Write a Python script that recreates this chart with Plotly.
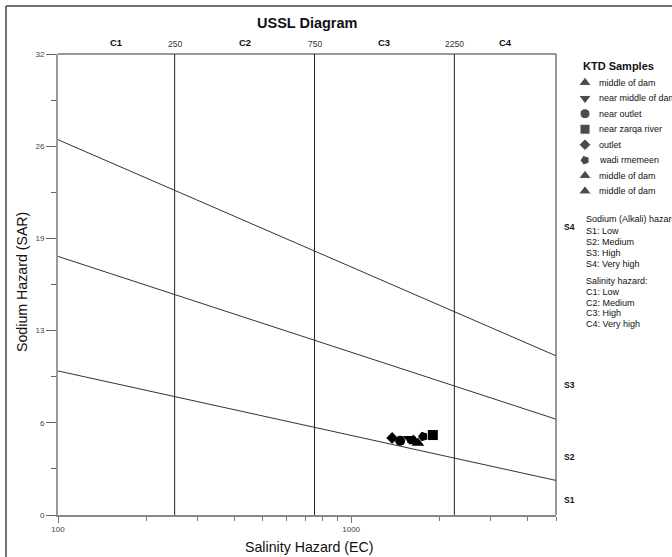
import numpy as np
import plotly.graph_objects as go

# ---------------- data ----------------
samples = ["middle of dam", "near middle of dam", "near outlet", "near zarqa river",
           "outlet", "wadi rmemeen", "middle of dam", "middle of dam"]
symbols = ["triangle-up", "triangle-down", "circle", "square",
           "diamond", "pentagon", "triangle-up", "triangle-up"]
sym_angle = [0, 0, 0, 0, 0, -90, 0, 0]
sym_size = [11, 11, 10, 10, 9, 10, 11, 11]
ec_values = [1650, 1580, 1470, 1900, 1380, 1760, 1630, 1690]
sar_values = [5.1, 5.3, 5.15, 5.55, 5.35, 5.45, 5.2, 5.0]

# salinity class boundaries (EC)
ec_bounds = [250, 750, 2250]
ec_range = [100, 5000]
c_labels = ["C1", "C2", "C3", "C4"]
# sodium boundary lines: SAR at EC=100 and EC=5000
sar_line_left = [10.0, 17.95, 26.05]
sar_line_right = [2.4, 6.65, 11.05]
s_labels = ["S1", "S2", "S3", "S4"]
s_label_sar = [1.05, 4.0, 9.0, 20.0]

y_tickvals = [0, 6.4, 12.8, 19.2, 25.6, 32]
y_ticktext = ["0", "6", "13", "19", "26", "32"]
y_minor = [3.2, 9.6, 16.0, 22.4, 28.8]
x_tickvals = [100, 1000]
x_ticktext = ["100", "1000"]
x_minor = [200, 300, 400, 500, 600, 700, 800, 900, 2000, 3000, 4000, 5000]

sodium_text = ["Sodium (Alkali) hazard", "S1: Low", "S2: Medium", "S3: High", "S4: Very high"]
salinity_text = ["Salinity hazard:", "C1: Low", "C2: Medium", "C3: High", "C4: Very high"]

# ---------------- layout geometry (window pixels) ----------------
W, H = 672, 557
L, R, T, B = 58, 0, 54, 42
PW = W - L - R
PH = H - T - B
def px(x):
    return (x - L) / PW
def py(y):
    return (H - B - y) / PH

FONT = "Liberation Sans, Arial, sans-serif"
fig = go.Figure()

# vertical salinity class lines
for b in ec_bounds:
    fig.add_trace(go.Scatter(x=[b, b], y=[0, 32], mode="lines",
                             line=dict(color="#222", width=1),
                             showlegend=False, hoverinfo="skip"))
# sodium hazard lines
for a, b in zip(sar_line_left, sar_line_right):
    fig.add_trace(go.Scatter(x=ec_range, y=[a, b], mode="lines",
                             line=dict(color="#333", width=1),
                             showlegend=False, hoverinfo="skip"))
# samples
for name, s, ang, sz, e, v in zip(samples, symbols, sym_angle, sym_size, ec_values, sar_values):
    fig.add_trace(go.Scatter(x=[e], y=[v], mode="markers", name=name,
                             marker=dict(symbol=s, angle=ang, size=sz, color="black"),
                             showlegend=False))

# legend keys on an overlay axis
idx = list(range(len(samples)))
fig.add_trace(go.Scatter(x=[0] * len(samples), y=idx, mode="markers",
                         marker=dict(symbol=symbols, angle=sym_angle, size=sym_size, color="black"),
                         xaxis="x2", yaxis="y2", showlegend=False, hoverinfo="skip"))

def note(text, x, y, size, xref="paper", yref="paper", xanchor="center", color="#111", **kw):
    return dict(text=text, x=x, y=y, xref=xref, yref=yref, xanchor=xanchor, yanchor="middle",
                showarrow=False, font=dict(size=size, color=color, family=FONT), **kw)

ann = []
ann.append(note("<b>USSL Diagram</b>", px(307), py(23), 14.5))
ann.append(note("Sodium Hazard (SAR)", px(22), py(282), 14.2, textangle=-90))
ann.append(note("Salinity Hazard (EC)", px(309), py(547), 14.2))
# top labels
edges = [ec_range[0]] + ec_bounds + [ec_range[1]]
for i, lab in enumerate(c_labels):
    mid = (np.log10(edges[i]) + np.log10(edges[i + 1])) / 2
    ann.append(note("<b>%s</b>" % lab, mid, py(42), 9.5, xref="x"))
for b in ec_bounds:
    ann.append(note(str(b), np.log10(b), py(44.5), 8.5, xref="x", color="#333"))
# S labels
for lab, v in zip(s_labels, s_label_sar):
    ann.append(note("<b>%s</b>" % lab, px(562), v, 8.5, yref="y", xanchor="left"))
# legend title and labels
ann.append(note("<b>KTD Samples</b>", px(581), py(66), 11, xanchor="left"))
for i, name in zip(idx, samples):
    ann.append(note(name, px(597), i, 9, yref="y2", xanchor="left"))
# hazard class text, one annotation per line
sod_y = [219, 230.5, 241.5, 253, 264]
sal_y = [281, 292, 302.5, 313, 324]
for t, yy in zip(sodium_text + salinity_text, sod_y + sal_y):
    ann.append(note(t, px(584), py(yy), 9, xanchor="left"))

shapes = [
    # outer frame (top and left)
    dict(type="line", xref="paper", yref="paper", x0=px(6), x1=px(W + 20), y0=py(6), y1=py(6),
         line=dict(color="#444", width=1.5)),
    dict(type="line", xref="paper", yref="paper", x0=px(6), x1=px(6), y0=py(6), y1=py(H + 20),
         line=dict(color="#444", width=1.5)),
    # plot top and right borders
    dict(type="line", xref="x domain", yref="y domain", x0=0, x1=1, y0=1, y1=1,
         line=dict(color="#333", width=1.2)),
    dict(type="line", xref="x domain", yref="y domain", x0=1, x1=1, y0=0, y1=1,
         line=dict(color="#555", width=1.2)),
]

fig.update_layout(
    width=W, height=H, autosize=False,
    margin=dict(l=L, r=R, t=T, b=B),
    paper_bgcolor="white", plot_bgcolor="white",
    showlegend=False,
    font=dict(family=FONT, size=8, color="#444"),
    annotations=ann, shapes=shapes,
    xaxis=dict(type="log", range=[np.log10(ec_range[0]), np.log10(ec_range[1])],
               domain=[0, (556 - 58) / PW],
               tickmode="array", tickvals=x_tickvals, ticktext=x_ticktext,
               ticks="outside", ticklen=6, tickcolor="#777", tickwidth=1,
               minor=dict(tickmode="array", tickvals=x_minor, ticks="outside", ticklen=4,
                          tickcolor="#777", showgrid=False),
               showline=True, linecolor="#888", linewidth=1.5,
               showgrid=False, zeroline=False, tickfont=dict(size=8, color="#444")),
    yaxis=dict(range=[0, 32], tickmode="array", tickvals=y_tickvals, ticktext=y_ticktext,
               ticks="outside", ticklen=10, tickcolor="#666", tickwidth=1,
               minor=dict(tickmode="array", tickvals=y_minor, ticks="outside", ticklen=5,
                          tickcolor="#666", showgrid=False),
               showline=True, linecolor="#999", linewidth=2,
               showgrid=False, zeroline=False, tickfont=dict(size=8, color="#444")),
    xaxis2=dict(domain=[px(575), px(595)], range=[-1, 1], anchor="y2", visible=False,
                fixedrange=True),
    yaxis2=dict(domain=[py(82.7 + 15.5 * 7.5), py(82.7 - 15.5 * 0.5)], range=[7.5, -0.5],
                anchor="x2", visible=False, fixedrange=True),
)

# the page's default 8px body margin would shift the figure; remove it
fig.write_html("out.html",
               config={"displayModeBar": False},
               post_script="document.body.style.margin='0';document.body.style.overflow='hidden';")
